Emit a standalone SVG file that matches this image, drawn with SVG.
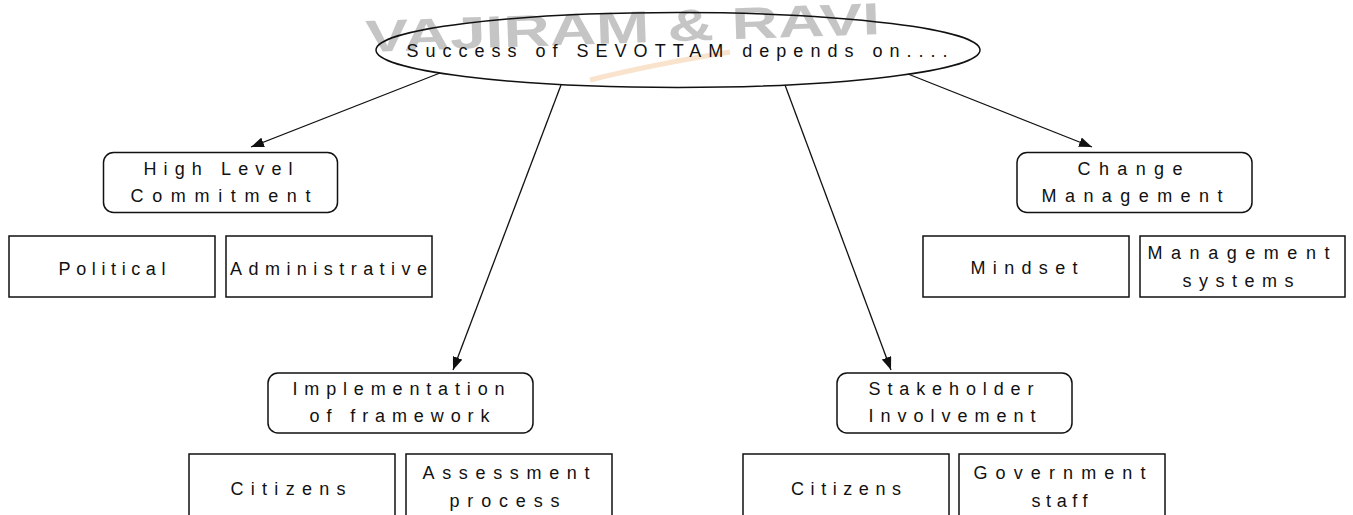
<svg xmlns="http://www.w3.org/2000/svg" width="1353" height="515" viewBox="0 0 1353 515">
  <style>
    .box { fill: #ffffff; stroke: #111111; stroke-width: 1.5; }
    .rbox { fill: #ffffff; stroke: #111111; stroke-width: 1.5; }
    .lbl { font-family: "Liberation Sans", Arial, sans-serif; font-size: 18px; fill: #111111; text-anchor: middle; }
    .conn { stroke: #111111; stroke-width: 1.3; fill: none; marker-end: url(#arrow); }
    .wm { font-family: "Liberation Sans", Arial, sans-serif; font-weight: bold; font-size: 45px; fill: #8c8c8c; opacity: 0.5; }
  </style>
  <defs>
    <marker id="arrow" markerUnits="userSpaceOnUse" markerWidth="14" markerHeight="10" refX="13" refY="5" orient="auto">
      <path d="M0,0 L13,5 L0,10 z" fill="#111111"/>
    </marker>
  </defs>
  <rect x="0" y="0" width="1353" height="515" fill="#ffffff"/>

  <g id="watermark">
    <path d="M590,80 C630,70 680,60 730,52" stroke="#f3c79a" stroke-width="5" fill="none" opacity="0.5"/>
    <text class="wm" x="366" y="52" transform="rotate(-2 366 52)" textLength="515" lengthAdjust="spacingAndGlyphs">VAJIRAM &amp; RAVI</text>
  </g>

  <g id="connectors">
    <line class="conn" x1="440" y1="73" x2="251" y2="147"/>
    <line class="conn" x1="561" y1="85" x2="453" y2="370"/>
    <line class="conn" x1="785" y1="85" x2="891" y2="370"/>
    <line class="conn" x1="908" y1="74" x2="1092" y2="147"/>
  </g>

  <g id="root">
    <ellipse cx="678" cy="50" rx="302" ry="37.5" fill="none" stroke="#111111" stroke-width="1.5"/>
    <text class="lbl" x="677" y="57" textLength="541" lengthAdjust="spacing">Success of SEVOTTAM depends on....</text>
  </g>

  <g id="high-level-commitment">
    <rect class="rbox" x="103.5" y="152.5" width="234" height="60" rx="10"/>
    <text class="lbl" x="218" y="175" textLength="149" lengthAdjust="spacing">High Level</text>
    <text class="lbl" x="220.5" y="202" textLength="180" lengthAdjust="spacing">Commitment</text>
  </g>
  <g id="political">
    <rect class="box" x="9" y="236" width="206" height="61"/>
    <text class="lbl" x="112" y="275" textLength="107" lengthAdjust="spacing">Political</text>
  </g>
  <g id="administrative">
    <rect class="box" x="226" y="236" width="206" height="61"/>
    <text class="lbl" x="328.5" y="275" textLength="197" lengthAdjust="spacing">Administrative</text>
  </g>

  <g id="change-management">
    <rect class="rbox" x="1017" y="152.5" width="235" height="60" rx="10"/>
    <text class="lbl" x="1130" y="175" textLength="105" lengthAdjust="spacing">Change</text>
    <text class="lbl" x="1132" y="202" textLength="181" lengthAdjust="spacing">Management</text>
  </g>
  <g id="mindset">
    <rect class="box" x="923" y="236" width="206" height="61"/>
    <text class="lbl" x="1024" y="274" textLength="107" lengthAdjust="spacing">Mindset</text>
  </g>
  <g id="management-systems">
    <rect class="box" x="1140" y="236" width="205" height="61"/>
    <text class="lbl" x="1238.5" y="259" textLength="182" lengthAdjust="spacing">Management</text>
    <text class="lbl" x="1238" y="287" textLength="111" lengthAdjust="spacing">systems</text>
  </g>

  <g id="implementation-of-framework">
    <rect class="rbox" x="268" y="373" width="265" height="60" rx="10"/>
    <text class="lbl" x="398.5" y="395" textLength="212" lengthAdjust="spacing">Implementation</text>
    <text class="lbl" x="399.5" y="422" textLength="180" lengthAdjust="spacing">of framework</text>
  </g>
  <g id="citizens-1">
    <rect class="box" x="189" y="454" width="206" height="70"/>
    <text class="lbl" x="288" y="495" textLength="115" lengthAdjust="spacing">Citizens</text>
  </g>
  <g id="assessment-process">
    <rect class="box" x="406" y="454" width="206" height="70"/>
    <text class="lbl" x="506" y="479" textLength="167" lengthAdjust="spacing">Assessment</text>
    <text class="lbl" x="504.5" y="507" textLength="110" lengthAdjust="spacing">process</text>
  </g>

  <g id="stakeholder-involvement">
    <rect class="rbox" x="837" y="373" width="235" height="60" rx="10"/>
    <text class="lbl" x="951" y="395" textLength="165" lengthAdjust="spacing">Stakeholder</text>
    <text class="lbl" x="952" y="422" textLength="167" lengthAdjust="spacing">Involvement</text>
  </g>
  <g id="citizens-2">
    <rect class="box" x="743" y="454" width="206" height="70"/>
    <text class="lbl" x="846" y="495" textLength="110" lengthAdjust="spacing">Citizens</text>
  </g>
  <g id="government-staff">
    <rect class="box" x="959" y="454" width="206" height="70"/>
    <text class="lbl" x="1059.5" y="479" textLength="172" lengthAdjust="spacing">Government</text>
    <text class="lbl" x="1059.5" y="507" textLength="56" lengthAdjust="spacing">staff</text>
  </g>
</svg>
